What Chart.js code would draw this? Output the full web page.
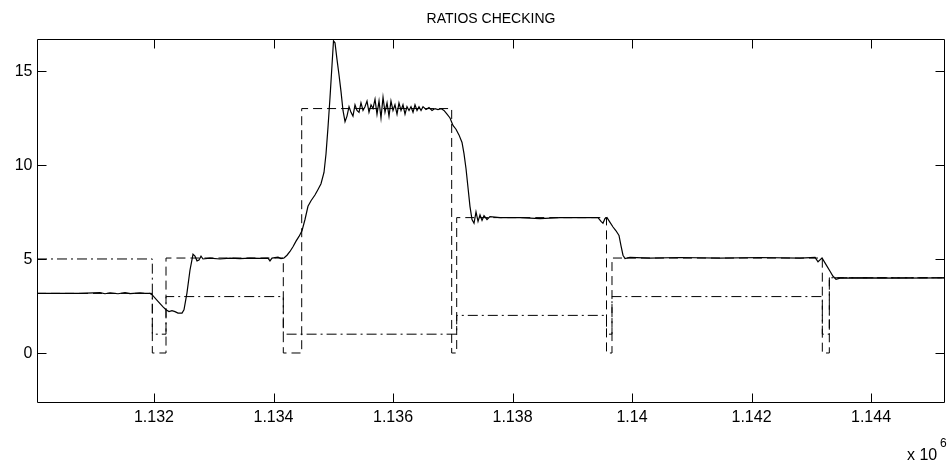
<!DOCTYPE html>
<html>
<head>
<meta charset="utf-8">
<script src="https://cdn.jsdelivr.net/npm/chart.js@4.4.1/dist/chart.umd.min.js"></script>
<style>
html,body{margin:0;padding:0;background:#fff;}
#wrap{width:947px;height:463px;position:relative;}
</style>
</head>
<body>
<div id="wrap"><canvas id="c"></canvas></div>
<script>
// ---------- data ----------
const titleText = 'RATIOS CHECKING';
const xTicks = [1132000, 1134000, 1136000, 1138000, 1140000, 1142000, 1144000];
const yTicks = [0, 5, 10, 15];
const xRange = [1130042, 1145238];
const yRange = [-2.66, 16.70];

// measured ratio (solid)
const measuredX = [1130042,1130762,1131096,1131180,1131264,1131398,1131515,1131598,1131766,1131849,1131933,1131967,
 1132067,1132151,1132201,1132251,1132301,1132351,1132402,1132469,1132502,1132552,1132602,1132653,1132686,1132720,
 1132753,1132787,1132820,1132937,1133105,1133272,1133439,1133607,1133774,1133908,1133941,1133975,1134075,1134125,
 1134176,1134226,1134276,1134326,1134377,1134427,1134477,1134527,1134577,1134628,1134694,1134745,1134795,1134845,
 1134879,1134912,1134946,1134979,1135004,1135029,1135063,1135096,1135130,1135163,1135197,1135230,1135264,1135297,
 1135330,1135364,1135397,1135431,1135464,1135498,1135531,1135565,1135598,1135632,1135665,1135699,1135732,1135766,
 1135799,1135833,1135866,1135900,1135933,1135966,1136000,1136033,1136067,1136100,1136134,1136167,1136201,1136234,
 1136268,1136301,1136335,1136368,1136402,1136435,1136469,1136502,1136552,1136602,1136653,1136703,1136753,1136803,
 1136853,1136904,1136954,1137004,1137054,1137104,1137155,1137188,1137222,1137255,1137288,1137322,1137356,1137389,
 1137423,1137456,1137490,1137523,1137573,1137623,1137791,1138125,1138460,1138795,1139130,1139431,1139481,1139514,
 1139548,1139581,1139632,1139682,1139732,1139782,1139816,1139849,1139883,1139966,1140301,1140803,1141473,1142142,
 1142811,1143063,1143113,1143146,1143180,1143247,1143314,1143364,1143414,1143481,1143983,1144485,1145238];
const measuredY = [3.17,3.17,3.21,3.15,3.20,3.15,3.21,3.16,3.20,3.17,3.17,3.10,
 2.75,2.45,2.30,2.20,2.25,2.20,2.12,2.12,2.30,3.20,4.40,5.25,5.15,4.90,
 4.95,5.15,5.00,5.05,5.00,5.05,5.02,5.05,5.03,5.05,4.90,5.05,5.10,5.02,
 5.05,5.20,5.40,5.65,5.95,6.20,6.50,7.10,7.80,8.10,8.40,8.70,9.00,9.60,
 10.6,12.0,13.6,15.3,16.6,16.5,15.6,14.8,13.9,12.9,12.3,12.6,13.1,12.8,
 12.6,13.2,12.9,12.8,13.3,12.9,13.1,13.4,12.8,13.2,13.0,13.5,12.7,13.4,
 12.5,13.6,12.8,13.3,12.6,13.4,12.9,13.2,12.7,13.3,12.9,13.2,12.7,13.1,
 12.9,13.1,12.8,13.2,12.9,13.1,12.9,13.1,12.95,13.05,12.9,13.0,12.95,13.0,
 12.9,12.7,12.5,12.1,11.9,11.6,11.2,10.6,9.8,8.8,7.8,7.1,6.9,7.5,
 7.0,7.35,7.05,7.3,7.1,7.25,7.2,7.2,7.15,7.2,7.2,7.2,7.0,6.9,
 7.15,7.2,6.95,6.7,6.5,6.25,5.7,5.2,5.02,5.08,5.05,5.08,5.05,5.08,
 5.05,5.08,4.85,4.95,5.05,4.7,4.35,4.08,3.92,3.98,4.0,3.98,4.0];

// commanded gear ratio (dashed, stepped: value starts at x)
const ratioX = [1130042,1131972,1132201,1134164,1134472,1136982,1137066,1139573,1139665,1143185,1143302,1145238];
const ratioY = [3.17,0,5.05,0,13.0,0,7.2,0,5.05,0,4.0,4.0];

// gear number (dash-dot, stepped: value starts at x)
const gearX = [1130042,1131972,1132201,1134164,1137066,1139573,1139665,1143185,1143302,1145238];
const gearY = [5,1,3,1,2,1,3,1,4,4];

// ---------- chart ----------
const FONT = '"Liberation Sans", Arial, Helvetica, sans-serif';
const toXY = (xs, ys) => xs.map((x, i) => ({x, y: ys[i]}));
const fmtX = v => String(Number((v / 1e6).toFixed(3)));

const framePlugin = {
  id: 'frame',
  afterDatasetsDraw(chart) {
    const {ctx, chartArea: a, scales: {x, y}} = chart;
    ctx.save();
    ctx.strokeStyle = '#000';
    ctx.lineWidth = 1;
    const L = Math.round(a.left) + 0.5, R = Math.round(a.right) - 0.5;
    const T = Math.round(a.top) + 0.5, B = Math.round(a.bottom) - 0.5;
    ctx.beginPath();
    ctx.rect(L, T, R - L, B - T);
    const tl = 9;
    xTicks.forEach(v => {
      const p = Math.round(x.getPixelForValue(v)) + 0.5;
      ctx.moveTo(p, B); ctx.lineTo(p, B - tl);
      ctx.moveTo(p, T); ctx.lineTo(p, T + tl);
    });
    yTicks.forEach(v => {
      const p = Math.round(y.getPixelForValue(v)) + 0.5;
      ctx.moveTo(L, p); ctx.lineTo(L + tl, p);
      ctx.moveTo(R, p); ctx.lineTo(R - tl, p);
    });
    ctx.stroke();
    ctx.fillStyle = '#000';
    // tick labels
    ctx.font = '16px ' + FONT;
    ctx.textBaseline = 'middle';
    ctx.textAlign = 'center';
    xTicks.forEach(v => ctx.fillText(fmtX(v), x.getPixelForValue(v), B + 15));
    ctx.textAlign = 'right';
    yTicks.forEach(v => ctx.fillText(String(v), L - 5, y.getPixelForValue(v) + 1));
    // title centred over the axes box
    ctx.textAlign = 'center';
    ctx.font = '14px ' + FONT;
    ctx.fillText(titleText, (a.left + a.right) / 2, 19);
    // exponent label
    ctx.textAlign = 'left';
    ctx.textBaseline = 'alphabetic';
    ctx.font = '16px ' + FONT;
    ctx.fillText('x 10', 907, 460);
    ctx.font = '12px ' + FONT;
    ctx.fillText('6', 940, 447);
    ctx.restore();
  }
};

new Chart(document.getElementById('c'), {
  type: 'line',
  data: {
    datasets: [
      {data: toXY(measuredX, measuredY), borderColor: '#000', borderWidth: 1.2, pointRadius: 0, tension: 0},
      {data: toXY(ratioX, ratioY), borderColor: '#000', borderWidth: 1, borderDash: [9, 5], pointRadius: 0, stepped: true},
      {data: toXY(gearX, gearY), borderColor: '#000', borderWidth: 1, borderDash: [10, 4, 2, 4], pointRadius: 0, stepped: true}
    ]
  },
  options: {
    responsive: true,
    maintainAspectRatio: false,
    animation: false,
    events: [],
    layout: {padding: {left: 0, right: 2, top: 39, bottom: 0}},
    plugins: {
      legend: {display: false},
      tooltip: {enabled: false},
      title: {display: false}
    },
    scales: {
      x: {
        type: 'linear',
        min: xRange[0], max: xRange[1],
        grid: {display: false, drawTicks: false},
        border: {display: false},
        afterBuildTicks: s => { s.ticks = xTicks.map(v => ({value: v})); },
        afterFit: s => { s.height = 60; },
        ticks: {display: false}
      },
      y: {
        type: 'linear',
        min: yRange[0], max: yRange[1],
        grid: {display: false, drawTicks: false},
        border: {display: false},
        afterBuildTicks: s => { s.ticks = yTicks.map(v => ({value: v})); },
        afterFit: s => { s.width = 37; },
        ticks: {display: false}
      }
    }
  },
  plugins: [framePlugin]
});
</script>
</body>
</html>
